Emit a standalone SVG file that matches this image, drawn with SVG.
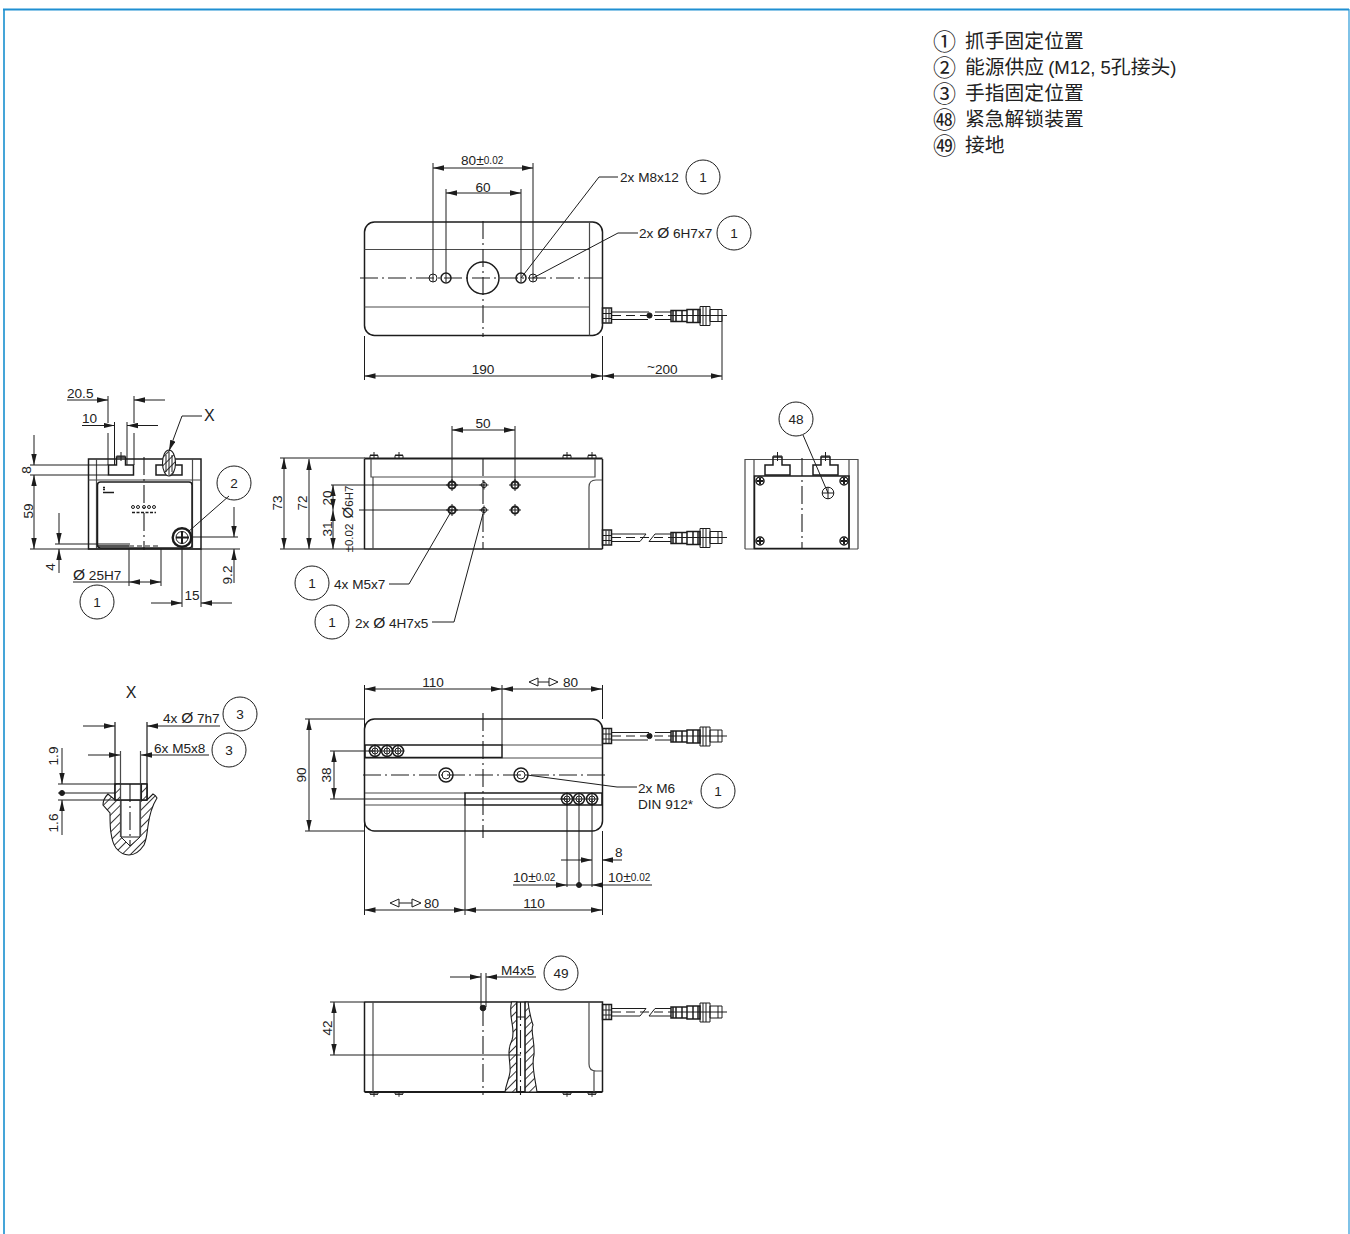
<svg xmlns="http://www.w3.org/2000/svg" width="1350" height="1234" viewBox="0 0 1350 1234">
<style>
text{font-family:"Liberation Sans",Arial,"Noto Sans CJK SC",sans-serif;fill:#222;font-size:13.6px}
.m{text-anchor:middle}
.s{font-size:10px}
.e{font-size:18.5px;font-family:"Liberation Sans",sans-serif;font-weight:400}
.l{font-size:19.8px;font-family:"Noto Sans CJK SC","Liberation Sans",sans-serif}
.n{font-size:23px;font-family:"Noto Sans CJK SC","Liberation Sans",sans-serif}
.x{font-size:16px}
.z{font-size:15.500px}
path,line,rect,circle,ellipse,polygon,polyline{fill:none;stroke:#1c1c1c;stroke-width:1}
.o{stroke-width:1.5}
.h{stroke-width:2}
.g{stroke:#4a4a4a;stroke-width:1.2}
.t{stroke-width:1}
.c{stroke-dasharray:18 4 2 4;stroke-width:1.1}
.d{marker-end:url(#a)}
.f{fill:#1c1c1c}
.w{fill:#fff}
.b{fill:url(#hatch);stroke-width:1.100}
</style>
<defs>
<marker id="a" markerUnits="userSpaceOnUse" markerWidth="12" markerHeight="6" viewBox="-11 -3 12 6" refX="0" refY="0" orient="auto"><path d="M0,0L-11,-2.700V2.700z" style="fill:#1c1c1c;stroke:none"/></marker>
<pattern id="hatch" patternUnits="userSpaceOnUse" width="6" height="6" patternTransform="rotate(-45)"><rect width="6" height="6" style="fill:#fff;stroke:none"/><line x1="0" y1="0" x2="6" y2="0" style="stroke:#222;stroke-width:1.800"/></pattern>
<g id="plug">
<rect x="0.500" y="-7.500" width="9" height="15" class="o"/><line x1="4" y1="-7" x2="4" y2="7"/><line x1="7" y1="-7" x2="7" y2="7"/><line x1="0" y1="-2" x2="9" y2="-2"/><line x1="0" y1="3" x2="9" y2="3"/>
<path d="M69,-5H85V6H69zM71,-5V6M74,-5V6M80,-5V6M85,-6H98V7H85zM91,-6V7M96,-6V7" class="o"/>
<path d="M98,-9H108V10H98zM101,-9V10M104,-9V10M108,-6H120V6H108z" class="t"/>
<line x1="116" y1="-6" x2="116" y2="6"/>
</g>
<g id="cableA">
<use href="#plug"/>
<path d="M10,-3.500H47M10,4H46M53,-3.500H69M53,4H69"/>
<path d="M10,0H69" stroke-dasharray="9 5"/>
<circle cx="47.500" cy="0" r="2.600" class="f"/>
<line x1="69" y1="0" x2="125" y2="0" class="t"/>
</g>
<g id="cableB">
<use href="#plug"/>
<path d="M10,-3.500H44L38,4H10M47,4L53,-3.500H69M47,4H69"/>
<path d="M10,0H69" stroke-dasharray="9 5"/>
<line x1="69" y1="0" x2="125" y2="0" class="t"/>
</g>
<g id="bolt"><path d="M-4,0V-2.500H4V0M0,-6V0M-4,-3H4"/></g>
<g id="hole"><circle r="3.600" class="h"/><path d="M-6,0H6M0,-6V6" class="t"/></g>
<g id="shole"><circle r="2.600"/><path d="M-4.500,0H4.500M0,-4.500V4.500" class="t"/></g>
<g id="screw"><circle r="5.500" class="o"/><circle r="3"/><path d="M-6.500,0H6.500M0,-6.500V6.500" class="t"/></g>
<g id="tslot"><path d="M0,10V0H8V-8H17V0H25V10z" class="o"/><path d="M12.500,-13V-4M8,-9H17" class="t"/></g>
</defs>

<g id="frame">
<path d="M4,1234V9.500" style="stroke:#45a5d8;stroke-width:2"/>
<path d="M3,9.500H1349" style="stroke:#1f8fd2;stroke-width:2"/>
<path d="M1349,9V1234" style="stroke:#2a9ad8;stroke-width:1.200"/>
</g>

<g id="legend">
<text x="933" y="50" class="n">①</text><text x="965" y="47.500" class="l">抓手固定位置</text>
<text x="933" y="76" class="n">②</text><text x="965" y="73.500" class="l">能源供应<tspan class="e" dx="4">(M12, 5</tspan>孔接头<tspan class="e">)</tspan></text>
<text x="933" y="102" class="n">③</text><text x="965" y="99.500" class="l">手指固定位置</text>
<text x="933" y="128" class="n">㊽</text><text x="965" y="125.500" class="l">紧急解锁装置</text>
<text x="933" y="154" class="n">㊾</text><text x="965" y="151.500" class="l">接地</text>
</g>

<g id="view-top">
<rect x="364.500" y="222" width="238" height="113.500" rx="10" class="o"/>
<path d="M364.500,249.500H589.500M364.500,307H589.500M589.500,222V335.500" class="g"/>
<path d="M360,278H606M483,221V337" class="c"/>
<circle cx="483" cy="278" r="16" class="o"/>
<circle cx="433" cy="278" r="4"/><circle cx="533" cy="278" r="4"/>
<circle cx="446" cy="278" r="5" class="o"/><circle cx="521" cy="278" r="5" class="o"/>
<path d="M433,163V282M533,163V282M446,189V282M521,189V282M364.500,336V380M602.500,336V380M722,316V380" class="t"/>
<path d="M483,168H433" class="d"/><path d="M483,168H533" class="d"/>
<path d="M483,193H446" class="d"/><path d="M483,193H521" class="d"/>
<path d="M483,376H364.500" class="d"/><path d="M483,376H602" class="d"/>
<path d="M660,376H603" class="d"/><path d="M660,376H722" class="d"/>
<use href="#cableA" x="602" y="315.500"/>
<path d="M521,278L599,177H618M533,278L618,233H638" class="t"/>
<text x="461" y="165">80<tspan font-size="14" style="font-size:14px">±</tspan><tspan class="s" dy="-1">0.02</tspan></text>
<text x="483" y="191.500" class="m">60</text>
<text x="483" y="374" class="m">190</text>
<text x="647" y="374"><tspan dy="-3">~</tspan><tspan dy="3">200</tspan></text>
<text x="620" y="182">2x M8x12</text>
<text x="639" y="238">2x <tspan class="z">Ø</tspan> 6H7x7</text>
<circle cx="703" cy="177" r="17"/><text x="703" y="182" class="m">1</text>
<circle cx="734" cy="233" r="17"/><text x="734" y="238" class="m">1</text>
</g>

<g id="view-left">
<rect x="88.500" y="459" width="112.500" height="90" class="o"/>
<path d="M96.500,459V549M192.500,459V549M88.500,480H201" class="g"/>
<rect x="97.500" y="482" width="94.500" height="66" rx="3" class="o"/>
<path d="M144,457V550" class="c"/>
<use href="#tslot" x="108.500" y="465"/>
<rect x="156" y="465" width="26" height="10" class="o"/>
<ellipse cx="169" cy="463" rx="6.500" ry="13" class="b"/>
<path d="M166,455V472M172,455V472M169,452V475" class="t"/>
<path d="M129,546H161" class="t" stroke-dasharray="5 3"/>
<path d="M98,546H129" class="o"/>
<g id="logo"><path d="M103,487.500h2M103,489.500h2M103,492.500h11" style="stroke-width:1.400"/></g>
<g id="leds"><circle cx="133" cy="507" r="1.500" class="t"/><circle cx="138" cy="507" r="1.500" class="t"/><circle cx="144" cy="507" r="1.500" class="t"/><circle cx="149" cy="507" r="1.500" class="t"/><circle cx="154" cy="507" r="1.500" class="t"/><path d="M132,512.500H156" stroke-dasharray="3 1.500" style="stroke-width:1.600"/></g>
<circle cx="182" cy="537.500" r="9.300" style="stroke-width:2.400"/><circle cx="182" cy="537.500" r="6"/><path d="M182,531V544M176,537.500H189" style="stroke-width:2"/>
<path d="M108,396V423M108,433V465M134,396V423M134,433V465M114.500,422V465M127,422V465" class="t"/>
<path d="M30,465H108M30,475H108M55,544H130M30,549H240M129,549V586M161,549V586M182,548V607M201,549V607M190,537H238" class="t"/>
<path d="M67,400H108" class="d"/><path d="M165,400H134" class="d"/>
<path d="M82,425.500H114.500" class="d"/><path d="M158,425.500H127" class="d"/>
<path d="M34,435V465" class="d"/><path d="M34,513V475" class="d"/><path d="M34,513V549" class="d"/>
<path d="M59,513V544" class="d"/><path d="M59,573V549" class="d"/>
<path d="M73,582H129" class="t"/><path d="M145,582H129" class="d"/><path d="M145,582H161" class="d"/>
<path d="M151,603H182" class="d"/><path d="M232,603H201" class="d"/>
<path d="M234,507V537" class="d"/><path d="M234,583V549" class="d"/>
<path d="M182,416H202M182,416L179,424" class="t"/><path d="M179,424L169,451" class="d"/>
<path d="M229,496L188,532" class="t"/>
<text x="67" y="398">20.5</text><text x="82" y="422.500">10</text>
<text x="204" y="420.500" class="x">X</text>
<text x="31" y="470" class="m" transform="rotate(-90 31 470)">8</text>
<text x="33" y="511" class="m" transform="rotate(-90 33 511)">59</text>
<text x="55" y="567" class="m" transform="rotate(-90 55 567)">4</text>
<text x="232" y="575" class="m" transform="rotate(-90 232 575)">9.2</text>
<text x="73" y="580"><tspan class="z">Ø</tspan> 25H7</text>
<text x="184.500" y="600">15</text>
<circle cx="97" cy="602" r="17"/><text x="97" y="607" class="m">1</text>
<circle cx="234" cy="483" r="17"/><text x="234" y="488" class="m">2</text>
</g>

<g id="view-front">
<path d="M364.500,459V549M364.500,549H602.500M602.500,459V549" class="o"/>
<path d="M364.500,458.500H602.500" class="h"/>
<path d="M371,459V477H595V459M373,477V549M589,549V487Q589,480 596,480H602" class="g"/>
<path d="M483,458V549" class="c"/>
<use href="#bolt" x="374" y="458"/><use href="#bolt" x="399" y="458"/><use href="#bolt" x="567" y="458"/><use href="#bolt" x="592" y="458"/>
<use href="#hole" x="452" y="485"/><use href="#hole" x="515" y="485"/><use href="#hole" x="452" y="510"/><use href="#hole" x="515" y="510"/>
<use href="#shole" x="484" y="485"/><use href="#shole" x="484" y="510"/>
<path d="M331,485H484M359,510H484M452,426V485M515,426V485M280,458H365M280,549H365" class="t"/>
<path d="M483,430H452" class="d"/><path d="M483,430H515" class="d"/>
<path d="M284,503V458" class="d"/><path d="M284,503V549" class="d"/>
<path d="M309,503V459" class="d"/><path d="M309,503V549" class="d"/>
<path d="M333,498V485" class="d"/><path d="M333,498V510" class="d"/><path d="M333,530V510" class="d"/><path d="M333,530V549" class="d"/>
<use href="#cableB" x="602" y="537.500"/>
<path d="M452,510L409,584H389M484,510L454,622H432" class="t"/>
<text x="483" y="428" class="m">50</text>
<text x="282" y="503" class="m" transform="rotate(-90 282 503)">73</text>
<text x="307" y="503" class="m" transform="rotate(-90 307 503)">72</text>
<text x="332" y="498" class="m" transform="rotate(-90 332 498)">20</text>
<text x="332" y="529" class="m" transform="rotate(-90 332 529)">31</text>
<text x="353" y="502" class="m" transform="rotate(-90 353 502)"><tspan style="font-size:15px">Ø</tspan><tspan style="font-size:11.500px">6H7</tspan></text>
<text x="353" y="538" class="m" style="font-size:11.500px" transform="rotate(-90 353 538)">±0.02</text>
<text x="334" y="589">4x M5x7</text>
<text x="355" y="628">2x <tspan class="z">Ø</tspan> 4H7x5</text>
<circle cx="312" cy="583" r="17"/><text x="312" y="588" class="m">1</text>
<circle cx="332" cy="622" r="17"/><text x="332" y="627" class="m">1</text>
</g>

<g id="view-right">
<path d="M745,459.500H858M745,459V549M745,549H858M858,459V549" class="g"/>
<path d="M754,459V549M849,459V549" class="g"/>
<rect x="754.500" y="476" width="94.500" height="72.500" class="o"/>
<path d="M802,458V549" class="c"/>
<use href="#tslot" x="765" y="465"/><use href="#tslot" x="813" y="465"/>
<circle cx="760" cy="481" r="4" class="o"/><circle cx="844" cy="481" r="4" class="o"/><circle cx="760" cy="541" r="4" class="o"/><circle cx="844" cy="541" r="4" class="o"/>
<path d="M757,481H763M760,478V484M841,481H847M844,478V484M757,541H763M760,538V544M841,541H847M844,538V544" style="stroke-width:2"/>
<circle cx="828" cy="493" r="5.800"/><path d="M822,493H834M828,487V499" class="t"/>
<path d="M803,435L828,493" class="t"/>
<circle cx="796" cy="419" r="17"/><text x="796" y="424" class="m">48</text>
</g>

<g id="view-detail">
<path d="M108,794C105,797 103,801 103,805L110,813C110,822 110,828 111,833C112,840 113,844 116,848C120,853 124,855 129,855C135,855 140,851 144,845C147,838 147,832 148,826C149,818 152,806 157,798C156,796 155,795 153,794L147,800H115z" class="b"/>
<path d="M121,800V837L130,846L140,837V800z" class="w"/>
<path d="M121,837H140" class="t"/>
<rect x="115" y="784" width="32" height="16" class="w" style="stroke-width:1.200"/>
<rect x="115" y="784" width="5.500" height="16" class="b"/><rect x="141.500" y="784" width="5.500" height="16" class="b"/>
<path d="M130,784V846" class="c" stroke-dasharray="8 4"/>
<path d="M115,722V800M147,722V800" style="stroke-width:1.200"/>
<path d="M120.500,751V837M140.500,751V837" class="g"/>
<path d="M58,784H147M58,793H115M58,800H147" class="t"/>
<path d="M83,726H115" class="d"/><path d="M220,726H147" class="d"/>
<path d="M88,755H120" class="d"/><path d="M209,755H141" class="d"/>
<path d="M62,748V784" class="d"/><path d="M62,835V800" class="d"/>
<circle cx="62" cy="793" r="2.500" class="f"/>
<text x="131" y="698" class="m x">X</text>
<text x="163" y="722.500">4x <tspan class="z">Ø</tspan> 7h7</text>
<text x="154" y="752.500">6x M5x8</text>
<text x="58" y="756" class="m" transform="rotate(-90 58 756)">1.9</text>
<text x="58" y="823" class="m" transform="rotate(-90 58 823)">1.6</text>
<circle cx="240" cy="714" r="17"/><text x="240" y="719" class="m">3</text>
<circle cx="229" cy="750" r="17"/><text x="229" y="755" class="m">3</text>
</g>

<g id="view-bottom">
<rect x="364.500" y="719" width="238" height="112" rx="10" class="o"/>
<path d="M502,745H602M365,758H602M365,793H465M365,805H465" class="g"/>
<path d="M365,745H502V757.500H365zM465,793H602V805H465z" class="o"/>
<path d="M363,775H606M483,713V838" class="c"/>
<g id="bores"><circle cx="446" cy="775" r="7" class="o"/><circle cx="446" cy="775" r="4"/><circle cx="521" cy="775" r="7" class="o"/><circle cx="521" cy="775" r="4"/></g>
<use href="#screw" x="375" y="751"/><use href="#screw" x="387" y="751"/><use href="#screw" x="398" y="751"/>
<use href="#screw" x="567" y="799"/><use href="#screw" x="579" y="799"/><use href="#screw" x="592" y="799"/>
<path d="M364.500,685V915M602.500,685V719M602.500,831V915M502,685V745M465,805V915M305,719H365M305,831H365M330,751H375M330,799H567M567,799V887M579,799V887M592,799V887" class="t"/>
<path d="M433,689H364.500" class="d"/><path d="M433,689H502" class="d"/>
<path d="M550,689H502" class="d"/><path d="M550,689H602" class="d"/>
<path d="M309,775V719" class="d"/><path d="M309,775V831" class="d"/>
<path d="M334,775V751" class="d"/><path d="M334,775V799" class="d"/>
<path d="M561,860H592" class="d"/><path d="M622,860H602" class="d"/>
<path d="M513,885H567" class="d"/><path d="M652,885H592" class="d"/><path d="M567,885H592" class="t"/>
<circle cx="579" cy="885" r="2.500" class="f"/>
<path d="M415,910H364.500" class="d"/><path d="M415,910H465" class="d"/>
<path d="M534,910H465" class="d"/><path d="M534,910H602" class="d"/>
<use href="#cableA" x="602" y="736"/>
<path d="M527,775L617,787H637" class="t"/>
<text x="433" y="686.500" class="m">110</text>
<path d="M529,682L538,678V686zM538,682H549M549,678V686L558,682z" class="t"/><text x="563" y="686.500">80</text>
<path d="M390,903L399,899V907zM399,903H412M412,899V907L421,903z" class="t"/><text x="424" y="907.500">80</text>
<text x="534" y="908" class="m">110</text>
<text x="306" y="775" class="m" transform="rotate(-90 306 775)">90</text>
<text x="331" y="775" class="m" transform="rotate(-90 331 775)">38</text>
<text x="615" y="857">8</text>
<text x="513" y="882">10<tspan style="font-size:14px">±</tspan><tspan class="s" dy="-1">0.02</tspan></text>
<text x="608" y="882">10<tspan style="font-size:14px">±</tspan><tspan class="s" dy="-1">0.02</tspan></text>
<text x="638" y="793">2x M6</text><text x="638" y="809">DIN 912*</text>
<circle cx="718" cy="791" r="17"/><text x="718" y="796" class="m">1</text>
</g>

<g id="view-side">
<path d="M364.500,1002H602.500V1092M364.500,1002V1092" class="o"/>
<path d="M364.500,1092H602.500" class="h"/>
<path d="M373,1002V1092M594,1071V1092M589,1002V1064Q589,1071 596,1071H602" class="g"/>
<path d="M511.500,1002C508,1018 516,1028 512,1040C506,1052 511,1062 510,1072C509,1080 506,1084 505,1092H537C535,1078 531,1064 534,1055C535,1040 530,1030 533,1025C530,1016 529,1010 528,1002H525V1092H517V1002z" class="b"/>
<path d="M516.500,1002V1092M525,1002V1092M516.500,1017H525" class="t"/>
<path d="M483,1008V1095M520.500,1002V1095" class="c"/>
<path d="M481,973V1007M486,973V1007" class="t"/>
<circle cx="483" cy="1008" r="2.800" class="f"/>
<path d="M330,1002H365M330,1055H521" class="t"/>
<path d="M450,977H481" class="d"/><path d="M536,977H486" class="d"/>
<path d="M334,1028V1002" class="d"/><path d="M334,1028V1055" class="d"/>
<use href="#bolt" transform="translate(374 1092) scale(1 -.8)"/><use href="#bolt" transform="translate(399 1092) scale(1 -.8)"/><use href="#bolt" transform="translate(567 1092) scale(1 -.8)"/><use href="#bolt" transform="translate(592 1092) scale(1 -.8)"/>
<use href="#cableB" x="602" y="1012"/>
<text x="501" y="975">M4x5</text>
<text x="332" y="1028" class="m" transform="rotate(-90 332 1028)">42</text>
<circle cx="561" cy="973" r="17"/><text x="561" y="978" class="m">49</text>
</g>
</svg>
